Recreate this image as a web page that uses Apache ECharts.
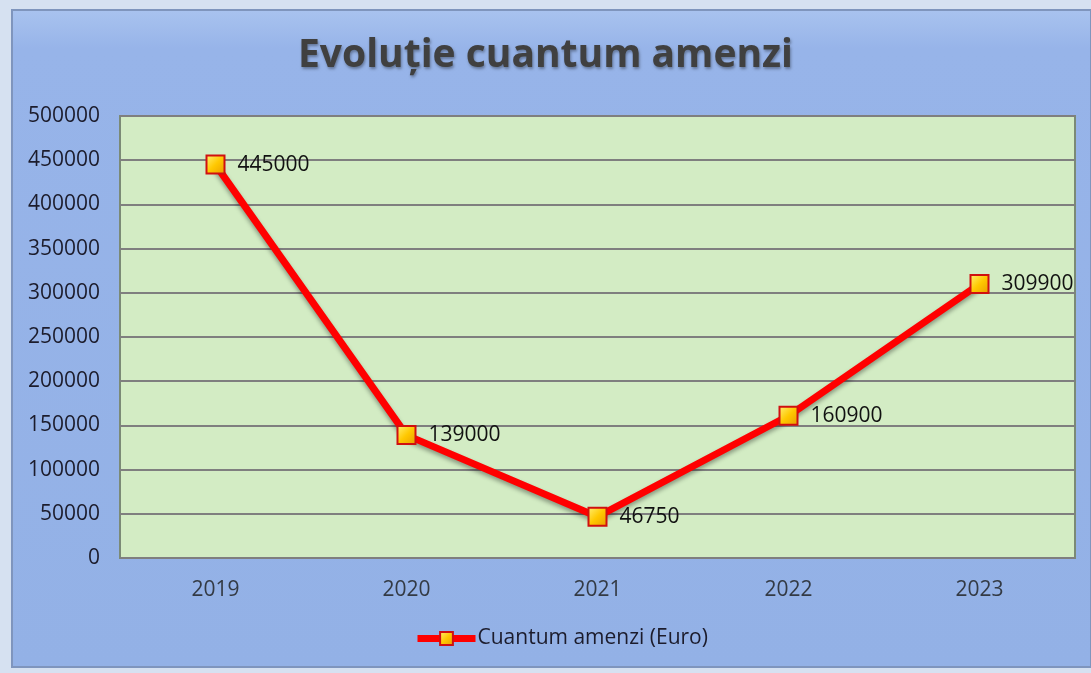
<!DOCTYPE html>
<html>
<head>
<meta charset="utf-8">
<script src="https://cdn.jsdelivr.net/npm/echarts@6/dist/echarts.min.js"></script>
<style>
    html, body { margin: 0; padding: 0; background: #d6e1f1; }
    #chart { width: 1091px; height: 673px; }
</style>
</head>
<body>
<div id="chart"></div>
<script>
// date
var years = ['2019', '2020', '2021', '2022', '2023']
var amenzi = [445000, 139000, 46750, 160900, 309900]
var yTicks = [0, 50000, 100000, 150000, 200000, 250000, 300000, 350000, 400000, 450000, 500000]

var chart = echarts.init(document.getElementById('chart'))

var markerFill = new echarts.graphic.LinearGradient(0, 0, 1, 1, [
    { offset: 0, color: '#fff27a' },
    { offset: 0.5, color: '#ffc800' },
    { offset: 1, color: '#e89a00' },
])

var option = {
    backgroundColor: '#d6e1f1',
    graphic: [
        {
            type: 'rect',
            z: -10,
            shape: { x: 12, y: 10, width: 1079, height: 657 },
            style: {
                fill: new echarts.graphic.LinearGradient(0, 0, 0, 1, [
                    { offset: 0, color: '#a9c3ef' },
                    { offset: 0.06, color: '#97b4e9' },
                    { offset: 1, color: '#93b1e6' },
                ]),
                stroke: '#7f95bd',
                lineWidth: 2,
            },
        },
        {
            type: 'rect',
            z: -9,
            shape: { x: 122, y: 118, width: 951, height: 14 },
            style: { fill: 'rgba(255,255,255,0.45)' },
        },
    ],
    title: {
        text: 'Evoluție cuantum amenzi',
        left: 'center',
        top: 31,
        textStyle: {
            fontFamily: 'Open Sans',
            fontWeight: 'bold',
            fontSize: 39,
            color: '#404040',
            textShadowColor: 'rgba(0,0,0,0.35)',
            textShadowBlur: 3,
            textShadowOffsetX: 1,
            textShadowOffsetY: 2,
        },
    },
    legend: {
        bottom: 24,
        left: 414,
        padding: 0,
        itemWidth: 58,
        itemHeight: 16,
        itemGap: 2,
        lineStyle: { width: 7, color: '#ff0000' },
        textStyle: { fontFamily: 'Open Sans', fontSize: 21, color: '#1c1c2c', padding: [0, 0, 0, -3] },
        data: ['Cuantum amenzi (Euro)'],
    },
    grid: {
        left: 120,
        right: 16,
        top: 116,
        bottom: 115,
        show: true,
        backgroundColor: '#d3ecc4',
        borderColor: '#7b8a76',
        borderWidth: 2,
    },
    xAxis: {
        type: 'category',
        boundaryGap: true,
        data: years,
        axisLine: { show: false },
        axisTick: { show: false },
        axisLabel: {
            margin: 22,
            fontFamily: 'Open Sans',
            fontSize: 21,
            color: '#333a44',
        },
    },
    yAxis: {
        type: 'value',
        min: yTicks[0],
        max: yTicks[yTicks.length - 1],
        interval: 50000,
        axisLine: { show: false },
        axisTick: { show: false },
        splitLine: { lineStyle: { color: '#7f7f7f', width: 2 } },
        axisLabel: {
            margin: 20,
            fontFamily: 'Open Sans',
            fontSize: 21,
            color: '#1c1c2c',
            formatter: function (v) { return String(v) },
        },
    },
    series: [
        {
            name: 'Cuantum amenzi (Euro)',
            type: 'line',
            data: amenzi,
            symbol: 'rect',
            symbolSize: 18,
            itemStyle: {
                color: markerFill,
                borderColor: '#d01010',
                borderWidth: 2,
            },
            lineStyle: {
                color: '#ff0000',
                width: 7,
                shadowColor: 'rgba(0,0,0,0.35)',
                shadowBlur: 4,
                shadowOffsetY: 3,
            },
            label: {
                show: true,
                position: 'right',
                distance: 12,
                fontFamily: 'Open Sans',
                fontSize: 21,
                color: '#111',
            },
        },
    ],
}

option && chart.setOption(option)
</script>
</body>
</html>
